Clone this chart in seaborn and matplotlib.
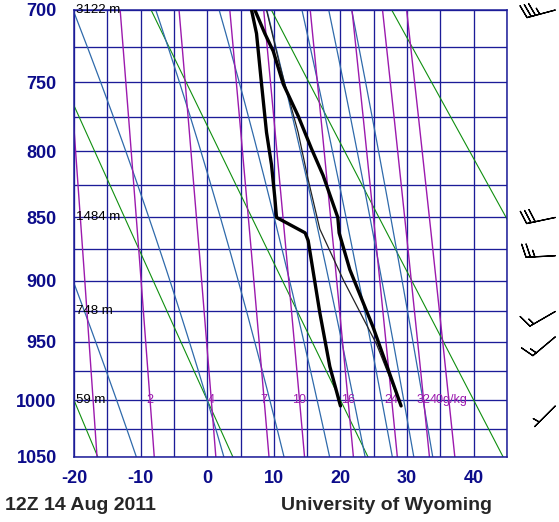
import numpy as np
import seaborn as sns
import matplotlib
matplotlib.use("Agg")
import matplotlib.pyplot as plt
from matplotlib.ticker import MultipleLocator

# sounding values (hPa, deg C)
temp_p = [1005, 938, 891, 862, 850, 818, 798, 774, 751, 728, 716, 700]
temp_c = [29.1, 24.9, 21.4, 19.8, 19.6, 17.4, 15.65, 13.65, 11.4, 9.9, 8.65, 7.15]
dwpt_p = [1005, 971, 926, 868, 862, 850, 835, 810, 786, 751, 716, 700]
dwpt_c = [20.0, 18.4, 16.9, 15.15, 14.7, 10.4, 10.15, 9.65, 8.9, 8.15, 7.4, 6.65]
parcel_p = [1005, 952, 899, 859, 821, 786, 738, 700]
parcel_c = [29.1, 25.4, 20.4, 16.9, 15.15, 13.65, 10.9, 8.9]

# winds (direction from, knots)
wind_p = [700, 850, 880, 925, 946, 1005]
wind_dir = [255, 258, 267, 240, 230, 225]
wind_kt = [35, 30, 25, 15, 15, 5]

# geopotential height labels
hgt_p = [700, 850, 925, 1000]
hgt_lbl = ["3122 m", "1484 m", "748 m", "59 m"]

# background line families
dry_theta = [233.15, 253.15, 273.15, 293.15, 313.15, 333.15, 353.15]
moist_t1000 = [-13.6, 0.0, 9.4, 16.5, 22.0, 26.2, 29.5, 32.4]
mixr = [1, 2, 4, 7, 10, 16, 24, 32, 40]
mixr_lbl = ["", "2", "4", "7", "10", "16", "24", "32", "40g/kg"]

KAPPA = 0.286
NAVY = "#1c1c98"
TICK_COL = "#0c0c8a"
PURPLE = "#9c1aae"
GREEN = "#0f8f0f"
BLUE = "#2f6aab"

sns.set_style("white")
plt.rcParams["font.family"] = ["Liberation Sans", "DejaVu Sans"]
plt.rcParams["axes.unicode_minus"] = False


def td_from_w(w, p):
    e = w * p / (622.0 + w)
    a = np.log(e / 6.112)
    return 243.5 * a / (17.67 - a)


def dtdp(t, p):
    es = 6.112 * np.exp(17.67 * (t - 273.15) / (t - 29.65))
    rs = 0.622 * es / (p - es)
    return (287.04 * t + 2.501e6 * rs) / (p * (1005.7 + 2.501e6 ** 2 * rs * 0.622 / (287.04 * t * t)))


def integrate(t0, pgrid):
    t = t0
    out = [t]
    for p0, p1 in zip(pgrid[:-1], pgrid[1:]):
        h = p1 - p0
        k1 = dtdp(t, p0)
        k2 = dtdp(t + h * k1 / 2, p0 + h / 2)
        k3 = dtdp(t + h * k2 / 2, p0 + h / 2)
        k4 = dtdp(t + h * k3, p1)
        t = t + h * (k1 + 2 * k2 + 2 * k3 + k4) / 6
        out.append(t)
    return np.array(out)


fig = plt.figure(figsize=(5.59, 5.22), dpi=100)
ax = fig.add_axes([74 / 559, 1 - 456.7 / 522, 433 / 559, 446.7 / 522])
ax.set_yscale("function", functions=(lambda p: np.abs(p) ** KAPPA, lambda y: np.abs(y) ** (1 / KAPPA)))
ax.set_xlim(-20, 45)
ax.set_ylim(1050, 700)

pres = np.linspace(690, 1060, 300)

# dry adiabats
for th in dry_theta:
    ax.plot(th * (pres / 1000.0) ** KAPPA - 273.15, pres, color=GREEN, lw=0.8, zorder=2)

# moist adiabats
p_up = np.arange(1000, 689, -2.0)
p_dn = np.arange(1000, 1061, 2.0)
for t0 in moist_t1000:
    tu = integrate(t0 + 273.15, p_up)
    td = integrate(t0 + 273.15, p_dn)
    tt = np.concatenate([td[::-1], tu[1:]]) - 273.15
    pp = np.concatenate([p_dn[::-1], p_up[1:]])
    ax.plot(tt, pp, color=BLUE, lw=0.9, zorder=2)

# mixing ratio lines
for w, lbl in zip(mixr, mixr_lbl):
    ax.plot(td_from_w(w, pres), pres, color=PURPLE, lw=1.0, zorder=2)
    if lbl:
        ax.text(td_from_w(w, 1000.0), 1000, lbl, color=PURPLE, fontsize=9,
                ha="center", va="center", zorder=3)

# sounding
sns.lineplot(x=parcel_c, y=parcel_p, sort=False, estimator=None, color="#222222",
             lw=0.9, ax=ax, zorder=4)
sns.lineplot(x=temp_c, y=temp_p, sort=False, estimator=None, color="black",
             lw=2.4, ax=ax, zorder=5)
sns.lineplot(x=dwpt_c, y=dwpt_p, sort=False, estimator=None, color="black",
             lw=2.4, ax=ax, zorder=5)

for p, lbl in zip(hgt_p, hgt_lbl):
    ax.text(-19.7, p, lbl, fontsize=9.5, color="black", ha="left", va="center", zorder=6)

# grid
ax.xaxis.set_major_locator(MultipleLocator(10))
ax.xaxis.set_minor_locator(MultipleLocator(5))
ax.yaxis.set_major_locator(MultipleLocator(50))
ax.yaxis.set_minor_locator(MultipleLocator(25))
ax.yaxis.set_minor_formatter(plt.NullFormatter())
ax.grid(True, which="both", color=NAVY, lw=0.95, zorder=1)
ax.set_axisbelow(True)
ax.tick_params(which="both", length=0)
ax.tick_params(axis="y", pad=12.5, labelsize=13, labelcolor=TICK_COL)
ax.tick_params(axis="x", pad=9.5, labelsize=13, labelcolor=TICK_COL)
for lab in ax.get_xticklabels() + ax.get_yticklabels():
    lab.set_fontweight("bold")
for s in ax.spines.values():
    s.set_color(NAVY)
    s.set_linewidth(1.1)
ax.set_xlabel("")
ax.set_ylabel("")

# wind barbs in a strip to the right
bax = fig.add_axes([507 / 559, 1 - 456.7 / 522, 52 / 559, 446.7 / 522], sharey=ax)
bax.set_xlim(0, 1)
bax.axis("off")
d = np.radians(wind_dir)
u = -np.array(wind_kt) * np.sin(d)
v = -np.array(wind_kt) * np.cos(d)
bax.barbs(np.full(len(wind_p), 0.93), wind_p, u, v, length=6.5, lw=0.9, color="black",
          clip_on=False, sizes=dict(spacing=0.15, height=0.45, width=0.25))

fig.text(5 / 559, 1 - 505 / 522, "12Z 14 Aug 2011", fontsize=14, fontweight="bold",
         ha="left", va="center")
fig.text(492 / 559, 1 - 505 / 522, "University of Wyoming", fontsize=14, fontweight="bold",
         ha="right", va="center")

fig.savefig("out.png", dpi=100)
